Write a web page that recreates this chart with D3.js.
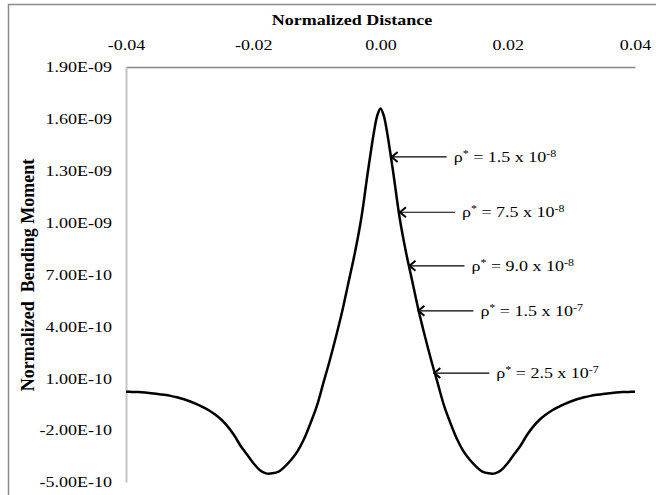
<!DOCTYPE html>
<html>
<head>
    <title>Normalized Bending Moment</title>
    <script src="https://d3js.org/d3.v7.min.js"></script>
    <style>
        body { margin: 0; background: #fff; }
        text { font-family: 'Liberation Serif', 'Times New Roman', serif; }
    </style>
</head>
<body>
<script>
// Normalized distance along the beam
const distance = [
    -0.040, -0.039, -0.038, -0.037, -0.036, -0.035, -0.034, -0.033, -0.032, -0.031,
    -0.030, -0.029, -0.028, -0.027, -0.026, -0.025, -0.024, -0.023, -0.022, -0.021,
    -0.020, -0.019, -0.018, -0.017, -0.016, -0.015, -0.014, -0.013, -0.012, -0.011,
    -0.010, -0.009, -0.008, -0.007, -0.006, -0.005, -0.004, -0.003, -0.002, -0.001,
    -0.0005, 0.000, 0.0005,
    0.001, 0.002, 0.003, 0.004, 0.005, 0.006, 0.007, 0.008, 0.009, 0.010,
    0.011, 0.012, 0.013, 0.014, 0.015, 0.016, 0.017, 0.018, 0.019, 0.020,
    0.021, 0.022, 0.023, 0.024, 0.025, 0.026, 0.027, 0.028, 0.029, 0.030,
    0.031, 0.032, 0.033, 0.034, 0.035, 0.036, 0.037, 0.038, 0.039, 0.040
];

// Normalized bending moment
const moment = [
    0.22e-10, 0.21e-10, 0.20e-10, 0.17e-10, 0.13e-10, 0.09e-10, 0.04e-10, -0.02e-10, -0.10e-10, -0.20e-10,
    -0.33e-10, -0.48e-10, -0.65e-10, -0.85e-10, -1.1e-10, -1.4e-10, -1.8e-10, -2.3e-10, -2.9e-10, -3.4e-10,
    -3.9e-10, -4.3e-10, -4.5e-10, -4.5e-10, -4.4e-10, -4.1e-10, -3.7e-10, -3.2e-10, -2.5e-10, -1.6e-10,
    -0.6e-10, 0.7e-10, 2.0e-10, 3.4e-10, 4.9e-10, 6.6e-10, 8.3e-10, 10.3e-10, 12.9e-10, 15.3e-10,
    16.2e-10, 16.6e-10, 16.2e-10,
    15.3e-10, 12.9e-10, 10.3e-10, 8.3e-10, 6.6e-10, 4.9e-10, 3.4e-10, 2.0e-10, 0.7e-10, -0.6e-10,
    -1.6e-10, -2.5e-10, -3.2e-10, -3.7e-10, -4.1e-10, -4.4e-10, -4.5e-10, -4.5e-10, -4.3e-10, -3.9e-10,
    -3.4e-10, -2.9e-10, -2.3e-10, -1.8e-10, -1.4e-10, -1.1e-10, -0.85e-10, -0.65e-10, -0.48e-10, -0.33e-10,
    -0.20e-10, -0.10e-10, -0.02e-10, 0.04e-10, 0.09e-10, 0.13e-10, 0.17e-10, 0.20e-10, 0.21e-10, 0.22e-10
];

const xTicks = [-0.04, -0.02, 0, 0.02, 0.04];
const xTickLabels = ['-0.04', '-0.02', '0.00', '0.02', '0.04'];
const yTicks = [1.9e-9, 1.6e-9, 1.3e-9, 1.0e-9, 7e-10, 4e-10, 1e-10, -2e-10, -5e-10];
const yTickLabels = ['1.90E-09', '1.60E-09', '1.30E-09', '1.00E-09', '7.00E-10',
                     '4.00E-10', '1.00E-10', '-2.00E-10', '-5.00E-10'];

// annotations: where each arrow points, and the density label
const annotX = [0.0016, 0.0029, 0.0044, 0.0058, 0.0083];
const annotY = [13.8e-10, 10.6e-10, 7.5e-10, 4.9e-10, 1.3e-10];
const annotMantissa = ['1.5', '7.5', '9.0', '1.5', '2.5'];
const annotExponent = ['-8', '-8', '-8', '-7', '-7'];

const W = 656, H = 495;
const margin = { top: 67, right: 21, bottom: 13, left: 126 };
const width = W - margin.left - margin.right;
const height = H - margin.top - margin.bottom;
const stretch = 1.2;

const svg = d3.select('body')
    .append('svg')
    .attr('width', W)
    .attr('height', H);

// outer frame (cut off at right/bottom in the original)
svg.append('rect')
    .attr('x', 8.5)
    .attr('y', 4.5)
    .attr('width', 700)
    .attr('height', 600)
    .attr('fill', 'none')
    .attr('stroke', '#8a8a8a')
    .attr('stroke-width', 1.5);

const g = svg.append('g')
    .attr('transform', `translate(${margin.left},${margin.top})`);

const x = d3.scaleLinear().domain([-0.04, 0.04]).range([0, width]);
const y = d3.scaleLinear().domain([-5e-10, 1.9e-9]).range([height, 0]);

// widen text a bit like the original
function widen(sel) {
    sel.each(function () {
        const t = d3.select(this);
        const tx = +t.attr('x') || 0;
        t.attr('transform', `translate(${tx},0) scale(${stretch},1) translate(${-tx},0)`);
    });
}

// top axis
const xAxis = g.append('g')
    .call(d3.axisTop(x)
        .tickValues(xTicks)
        .tickSize(0)
        .tickPadding(17)
        .tickFormat((d, i) => xTickLabels[i]));
xAxis.select('.domain').attr('stroke', '#868686').attr('stroke-width', 1.5);
xAxis.selectAll('text')
    .attr('font-size', 15)
    .attr('fill', '#000')
    .style('font-family', "'Liberation Serif', serif")
    .call(widen);

// left axis
const yAxis = g.append('g')
    .call(d3.axisLeft(y)
        .tickValues(yTicks)
        .tickSize(0)
        .tickPadding(14)
        .tickFormat((d, i) => yTickLabels[i]));
yAxis.select('.domain').attr('stroke', '#c4c4c4').attr('stroke-width', 2);
yAxis.selectAll('text')
    .attr('font-size', 15)
    .attr('fill', '#000')
    .style('font-family', "'Liberation Serif', serif")
    .call(widen);

// curve
const points = distance.map((d, i) => ({ x: d, y: moment[i] }));
const line = d3.line()
    .x(d => x(d.x))
    .y(d => y(d.y))
    .curve(d3.curveCatmullRom.alpha(0.5));

g.append('path')
    .datum(points)
    .attr('d', line)
    .attr('fill', 'none')
    .attr('stroke', '#000')
    .attr('stroke-width', 2.5);

// arrows + labels
const tail = 56;
annotX.forEach((ax, i) => {
    const px = x(ax), py = y(annotY[i]);
    g.append('line')
        .attr('x1', px + 1).attr('y1', py)
        .attr('x2', px + tail).attr('y2', py)
        .attr('stroke', '#000')
        .attr('stroke-width', 1.2);
    g.append('path')
        .attr('d', `M${px + 7},${py - 5} L${px + 1},${py} L${px + 7},${py + 5}`)
        .attr('fill', 'none')
        .attr('stroke', '#000')
        .attr('stroke-width', 2);

    const t = g.append('text')
        .attr('x', px + tail + 7)
        .attr('y', py + 5)
        .attr('font-size', 15)
        .attr('fill', '#000');
    t.append('tspan').text('\u03C1');
    t.append('tspan').attr('font-size', 10).attr('dy', -5).text('*');
    t.append('tspan').attr('dy', 5).text(` = ${annotMantissa[i]} x 10`);
    t.append('tspan').attr('font-size', 10).attr('dy', -5).text(annotExponent[i]);
    widen(t);
});

// axis titles
svg.append('text')
    .attr('x', 352)
    .attr('y', 25)
    .attr('text-anchor', 'middle')
    .attr('font-size', 15)
    .attr('font-weight', 'bold')
    .text('Normalized Distance')
    .call(widen);

svg.append('text')
    .attr('transform', 'translate(34,275) rotate(-90)')
    .attr('text-anchor', 'middle')
    .attr('font-size', 18)
    .attr('font-weight', 'bold')
    .attr('xml:space', 'preserve')
    .text('Normalized  Bending Moment');
</script>
</body>
</html>
